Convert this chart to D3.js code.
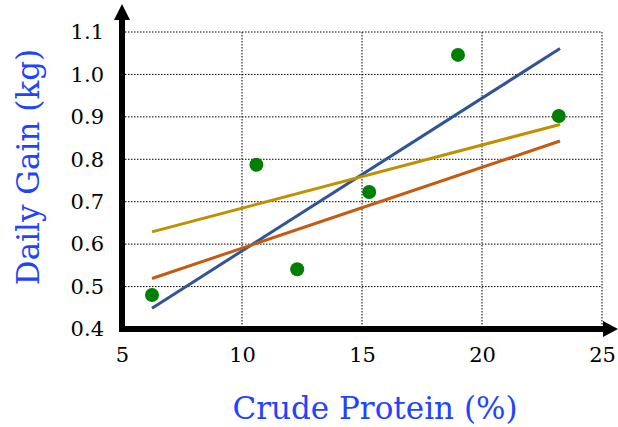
<!DOCTYPE html>
<html>
<head>
<meta charset="utf-8">
<script src="https://cdn.jsdelivr.net/npm/d3@7"></script>
<style>
  html, body { margin: 0; padding: 0; background: #fff; }
  svg { display: block; }
</style>
</head>
<body>
<svg id="chart" width="618" height="427"></svg>
<script>
// Observed daily gain against crude protein content
const proteinPct = [6.25, 10.6, 12.3, 15.3, 19.0, 23.2];
const dailyGainKg = [0.48, 0.787, 0.541, 0.723, 1.046, 0.902];

// Fitted trend lines: [x start, x end] and [y start, y end]
const trendNames = ["blue", "orange", "gold"];
const trendX = [6.25, 23.25];
const trendBlueY = [0.449, 1.061];
const trendOrangeY = [0.519, 0.843];
const trendGoldY = [0.629, 0.882];

const xTicks = [5, 10, 15, 20, 25];
const yTicks = [0.4, 0.5, 0.6, 0.7, 0.8, 0.9, 1.0, 1.1];

const xTitle = "Crude Protein (%)";
const yTitle = "Daily Gain (kg)";

const svg = d3.select("#chart");
const font = "'DejaVu Serif', 'Liberation Serif', serif";
const titleColor = "#1f44ff";

const x = d3.scaleLinear().domain([5, 25]).range([122, 602]);
const y = d3.scaleLinear().domain([0.4, 1.1]).range([329, 32]);

// dotted grid
const grid = svg.append("g")
  .attr("stroke", "#000")
  .attr("stroke-width", 1)
  .attr("stroke-dasharray", "1.5,1.5");
grid.selectAll("line.v").data(xTicks.slice(1)).join("line")
  .attr("x1", d => x(d)).attr("x2", d => x(d))
  .attr("y1", y(1.1)).attr("y2", y(0.4));
grid.selectAll("line.h").data(yTicks.slice(1)).join("line")
  .attr("x1", x(5)).attr("x2", x(25))
  .attr("y1", d => y(d)).attr("y2", d => y(d));

// tick labels via d3 axes (no tick marks, no domain path)
const xAxis = svg.append("g")
  .attr("transform", `translate(0,${y(0.4)})`)
  .call(d3.axisBottom(x).tickValues(xTicks).tickFormat(d3.format("d")).tickSize(0).tickPadding(18));
xAxis.select(".domain").remove();
xAxis.selectAll("text")
  .attr("font-family", font).attr("font-size", 21).attr("fill", "#000");

const yAxis = svg.append("g")
  .attr("transform", `translate(${x(5)},0)`)
  .call(d3.axisLeft(y).tickValues(yTicks).tickFormat(d3.format(".1f")).tickSize(0).tickPadding(18));
yAxis.select(".domain").remove();
yAxis.selectAll("text")
  .attr("font-family", font).attr("font-size", 21).attr("fill", "#000");

// trend lines
const trendData = [
  { name: trendNames[0], ys: trendBlueY, color: "#2f5597" },
  { name: trendNames[1], ys: trendOrangeY, color: "#c55a11" },
  { name: trendNames[2], ys: trendGoldY, color: "#bf9000" }
];
const line = d3.line().x(d => x(d[0])).y(d => y(d[1]));
svg.append("g").selectAll("path").data(trendData).join("path")
  .attr("d", t => line(trendX.map((xv, i) => [xv, t.ys[i]])))
  .attr("fill", "none")
  .attr("stroke", t => t.color)
  .attr("stroke-width", 3);

// observed points
svg.append("g").selectAll("circle").data(proteinPct).join("circle")
  .attr("cx", (d, i) => x(d))
  .attr("cy", (d, i) => y(dailyGainKg[i]))
  .attr("r", 7)
  .attr("fill", "#008000");

// axes with arrowheads
const axes = svg.append("g");
axes.append("line")
  .attr("x1", x(5)).attr("x2", x(5))
  .attr("y1", y(0.4) + 3).attr("y2", 19)
  .attr("stroke", "#000").attr("stroke-width", 6);
axes.append("path")
  .attr("d", `M${x(5) - 8},20 L${x(5)},4 L${x(5) + 8},20 Z`)
  .attr("fill", "#000");
axes.append("line")
  .attr("x1", x(5) - 3).attr("x2", 604)
  .attr("y1", y(0.4)).attr("y2", y(0.4))
  .attr("stroke", "#000").attr("stroke-width", 6);
axes.append("path")
  .attr("d", `M603,${y(0.4) - 8} L618,${y(0.4)} L603,${y(0.4) + 8} Z`)
  .attr("fill", "#000");

// axis titles
svg.append("text")
  .attr("x", 375).attr("y", 419)
  .attr("text-anchor", "middle")
  .attr("font-family", font).attr("font-size", 31)
  .attr("fill", titleColor)
  .text(xTitle);
svg.append("text")
  .attr("transform", "translate(39,167) rotate(-90)")
  .attr("text-anchor", "middle")
  .attr("font-family", font).attr("font-size", 31)
  .attr("fill", titleColor)
  .text(yTitle);
</script>
</body>
</html>
